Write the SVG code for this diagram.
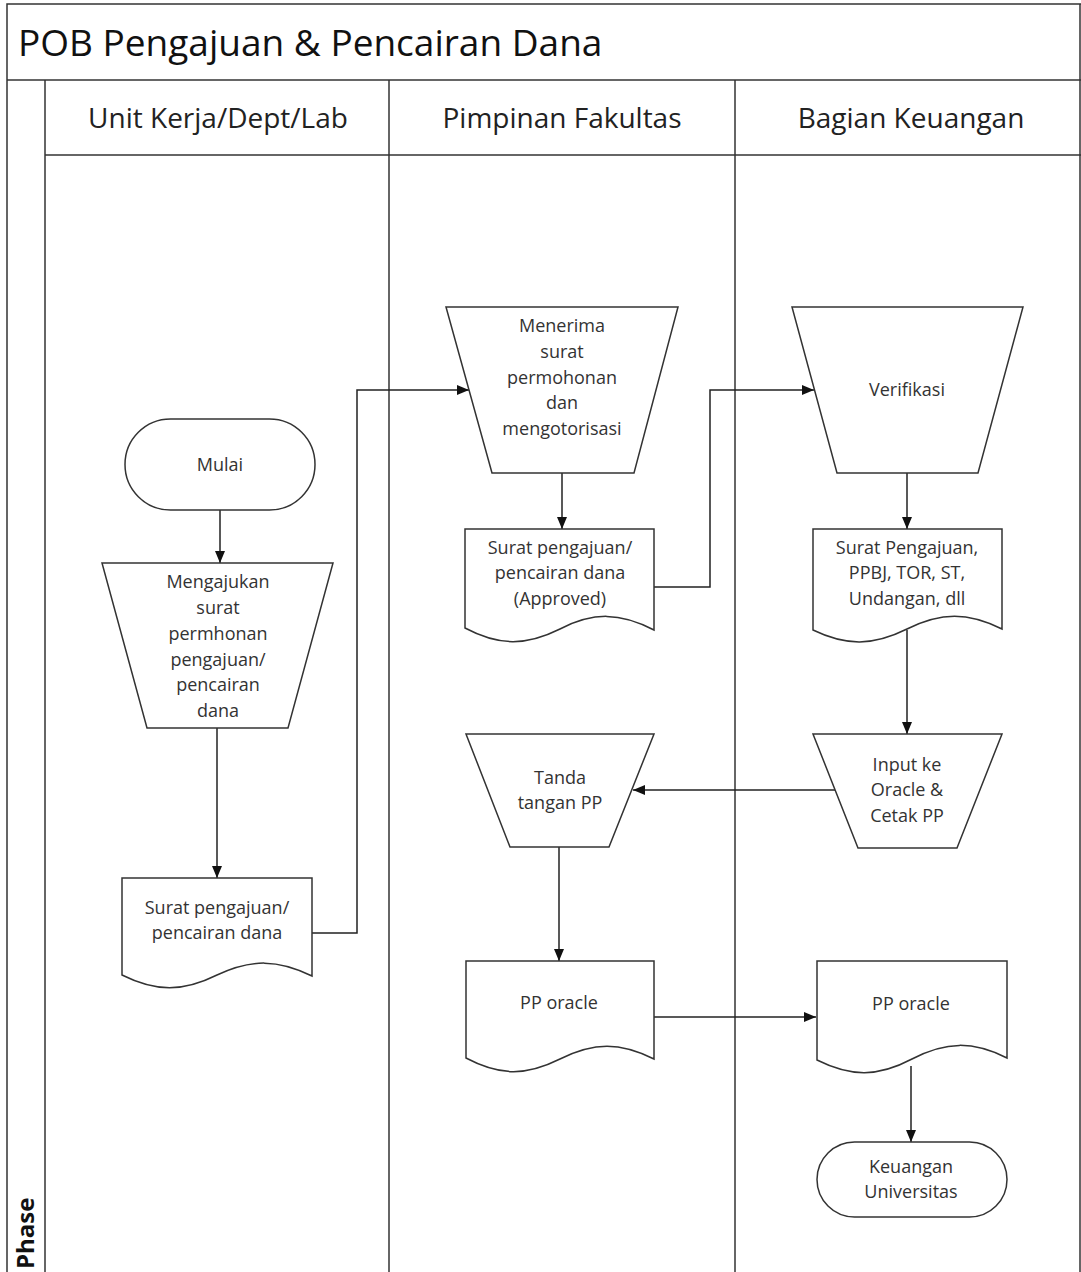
<svg xmlns="http://www.w3.org/2000/svg" width="1081" height="1272" viewBox="0 0 1081 1272">
<defs>
<marker id="ah" viewBox="0 0 12 10" refX="12" refY="5" markerWidth="12" markerHeight="10" markerUnits="userSpaceOnUse" orient="auto">
<path d="M0,0 L12,5 L0,10 Z" fill="#111"/>
</marker>
<style>
.frame{fill:none;stroke:#333;stroke-width:1.5}
.shape{fill:#fff;stroke:#333;stroke-width:1.5}
.conn{fill:none;stroke:#222;stroke-width:1.5}
.t{font-family:"Open Sans","Noto Sans",sans-serif;font-size:18px;fill:#333;text-anchor:middle}
.h{font-family:"Open Sans","Noto Sans",sans-serif;font-size:28px;fill:#222;text-anchor:middle}
</style>
</defs>
<rect width="1081" height="1272" fill="#fff"/>
<g id="pool">
<path class="frame" d="M7,1272 V4 H1081"/>
<line class="frame" x1="7" y1="80" x2="1081" y2="80"/>
<line class="frame" x1="45" y1="80" x2="45" y2="1272"/>
<line class="frame" x1="45" y1="155" x2="1081" y2="155" stroke-width="2"/>
<line class="frame" x1="389" y1="80" x2="389" y2="1272"/>
<line class="frame" x1="735" y1="80" x2="735" y2="1272"/>
<line class="frame" x1="1080" y1="4" x2="1080" y2="1272"/>
<text x="18" y="56" font-family="'Open Sans','Noto Sans',sans-serif" font-size="37" fill="#111">POB Pengajuan &amp; Pencairan Dana</text>
<text class="h" x="218" y="128">Unit Kerja/Dept/Lab</text>
<text class="h" x="562" y="128">Pimpinan Fakultas</text>
<text class="h" x="911" y="128">Bagian Keuangan</text>
<text x="0" y="0" transform="translate(34,1269) rotate(-90)" font-family="'Open Sans','Noto Sans',sans-serif" font-size="24" font-weight="bold" fill="#111">Phase</text>
</g>
<g id="connectors">
<line class="conn" x1="220" y1="510" x2="220" y2="563" marker-end="url(#ah)"/>
<line class="conn" x1="217" y1="728" x2="217" y2="878" stroke-width="2.2" marker-end="url(#ah)"/>
<polyline class="conn" points="312,933 357,933 357,390 469,390" marker-end="url(#ah)"/>
<line class="conn" x1="562" y1="473" x2="562" y2="529" marker-end="url(#ah)"/>
<polyline class="conn" points="654,587 710,587 710,390 814,390" marker-end="url(#ah)"/>
<line class="conn" x1="907" y1="473" x2="907" y2="529" marker-end="url(#ah)"/>
<line class="conn" x1="907" y1="630" x2="907" y2="734" marker-end="url(#ah)"/>
<line class="conn" x1="835" y1="790" x2="633" y2="790" marker-end="url(#ah)"/>
<line class="conn" x1="559" y1="847" x2="559" y2="961" marker-end="url(#ah)"/>
<line class="conn" x1="654" y1="1017" x2="816" y2="1017" marker-end="url(#ah)"/>
<line class="conn" x1="911" y1="1066" x2="911" y2="1142" marker-end="url(#ah)"/>
</g>
<g id="mulai">
<rect class="shape" x="125" y="419" width="190" height="91" rx="45.5"/>
<text class="t" x="220" y="471">Mulai</text>
</g>
<g id="mengajukan">
<path class="shape" d="M102,563 H333 L288,728 H147 Z"/>
<text class="t" x="218" y="588">Mengajukan</text>
<text class="t" x="218" y="614">surat</text>
<text class="t" x="218" y="640">permhonan</text>
<text class="t" x="218" y="666">pengajuan/</text>
<text class="t" x="218" y="691">pencairan</text>
<text class="t" x="218" y="717">dana</text>
</g>
<g id="surat1">
<path class="shape" d="M122,878 H312 V976 C278,959 251,959 217,975 C183,992 156,992 122,975 Z"/>
<text class="t" x="217" y="914">Surat pengajuan/</text>
<text class="t" x="217" y="939">pencairan dana</text>
</g>
<g id="menerima">
<path class="shape" d="M446,307 H678 L634,473 H492 Z"/>
<text class="t" x="562" y="332">Menerima</text>
<text class="t" x="562" y="358">surat</text>
<text class="t" x="562" y="384">permohonan</text>
<text class="t" x="562" y="409">dan</text>
<text class="t" x="562" y="435">mengotorisasi</text>
</g>
<g id="surat2">
<path class="shape" d="M465,529 H654 V630 C620,612 593,612 560,629 C526,646 499,646 465,628 Z"/>
<text class="t" x="560" y="554">Surat pengajuan/</text>
<text class="t" x="560" y="579">pencairan dana</text>
<text class="t" x="560" y="605">(Approved)</text>
</g>
<g id="verifikasi">
<path class="shape" d="M792,307 H1023 L978,473 H837 Z"/>
<text class="t" x="907" y="396">Verifikasi</text>
</g>
<g id="surat3">
<path class="shape" d="M813,529 H1002 V629 C968,612 941,612 907,629 C873,646 846,646 813,630 Z"/>
<text class="t" x="907" y="554">Surat Pengajuan,</text>
<text class="t" x="907" y="579">PPBJ, TOR, ST,</text>
<text class="t" x="907" y="605">Undangan, dll</text>
</g>
<g id="input">
<path class="shape" d="M813,734 H1002 L957,848 H858 Z"/>
<text class="t" x="907" y="771">Input ke</text>
<text class="t" x="907" y="796">Oracle &amp;</text>
<text class="t" x="907" y="822">Cetak PP</text>
</g>
<g id="tanda">
<path class="shape" d="M466,734 H654 L609,847 H510 Z"/>
<text class="t" x="560" y="784">Tanda</text>
<text class="t" x="560" y="809">tangan PP</text>
</g>
<g id="pporacle1">
<path class="shape" d="M466,961 H654 V1059 C620,1042 594,1042 560,1059 C526,1076 500,1076 466,1058 Z"/>
<text class="t" x="559" y="1009">PP oracle</text>
</g>
<g id="pporacle2">
<path class="shape" d="M817,961 H1007 V1058 C973,1041 946,1041 912,1059 C878,1077 851,1077 817,1060 Z"/>
<text class="t" x="911" y="1010">PP oracle</text>
</g>
<g id="keuangan">
<rect class="shape" x="817" y="1142" width="190" height="75" rx="37.5"/>
<text class="t" x="911" y="1173">Keuangan</text>
<text class="t" x="911" y="1198">Universitas</text>
</g>
</svg>
